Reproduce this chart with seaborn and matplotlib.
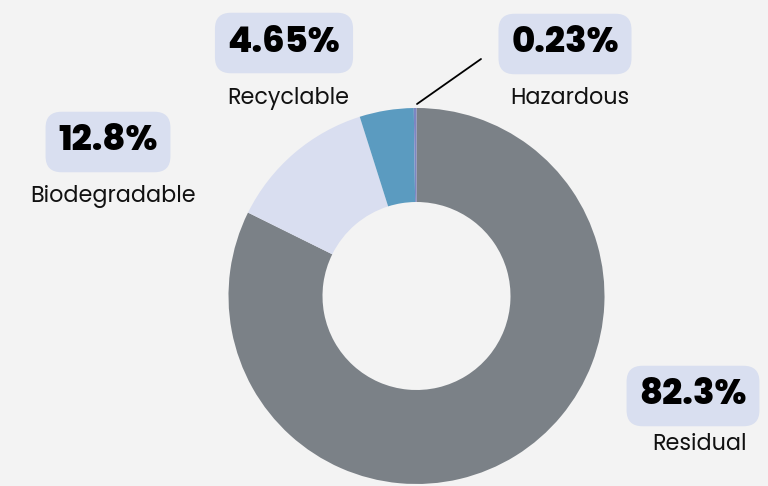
import numpy as np
import matplotlib.pyplot as plt
import seaborn as sns

# waste composition, clockwise from 12 o'clock
categories = ['Residual', 'Biodegradable', 'Recyclable', 'Hazardous']
shares = [82.3, 12.8, 4.65, 0.23]
share_labels = ['82.3%', '12.8%', '4.65%', '0.23%']
colors = ['#7b8187', '#d9def0', '#5b9bc0', '#7d86c2']

sns.set_theme(style='white')
plt.rcParams['font.family'] = ['Poppins', 'Inter', 'DejaVu Sans']

W, H = 768, 486
fig = plt.figure(figsize=(W / 100, H / 100), dpi=100, facecolor='#f3f3f3')
ax = fig.add_axes([0, 0, 1, 1])
ax.set_facecolor('#f3f3f3')

cx, cy, r = 416.5, H - 296, 188
ax.pie(shares, colors=colors, startangle=90, counterclock=False,
       center=(cx, cy), radius=r, frame=True,
       wedgeprops=dict(width=r * 0.5, linewidth=0))
ax.set_xlim(0, W)
ax.set_ylim(0, H)
ax.set_aspect('equal')
ax.axis('off')

# label anchors in pixel coords (value box centre, name centre)
label_pos = {
    'Residual': ((693, 396), (699, 444)),
    'Biodegradable': ((108, 142), (113, 196)),
    'Recyclable': ((284, 43), (288, 99)),
    'Hazardous': ((565, 44), (570, 99)),
}
box = dict(boxstyle='round,pad=0.36,rounding_size=0.45', fc='#d9dff0', ec='none')
for cat, lab in zip(categories, share_labels):
    (vx, vy), (nx, ny) = label_pos[cat]
    ax.text(vx, H - vy, lab, ha='center', va='center', fontsize=25.5,
            fontweight='heavy', color='black', bbox=box)
    ax.text(nx, H - ny, cat, ha='center', va='center', fontsize=16,
            color='#111111')

# leader line for the tiny slice
ax.plot([417, 481], [H - 104, H - 59], color='black', lw=1.3)

fig.savefig('out.png', dpi=100, facecolor=fig.get_facecolor())
